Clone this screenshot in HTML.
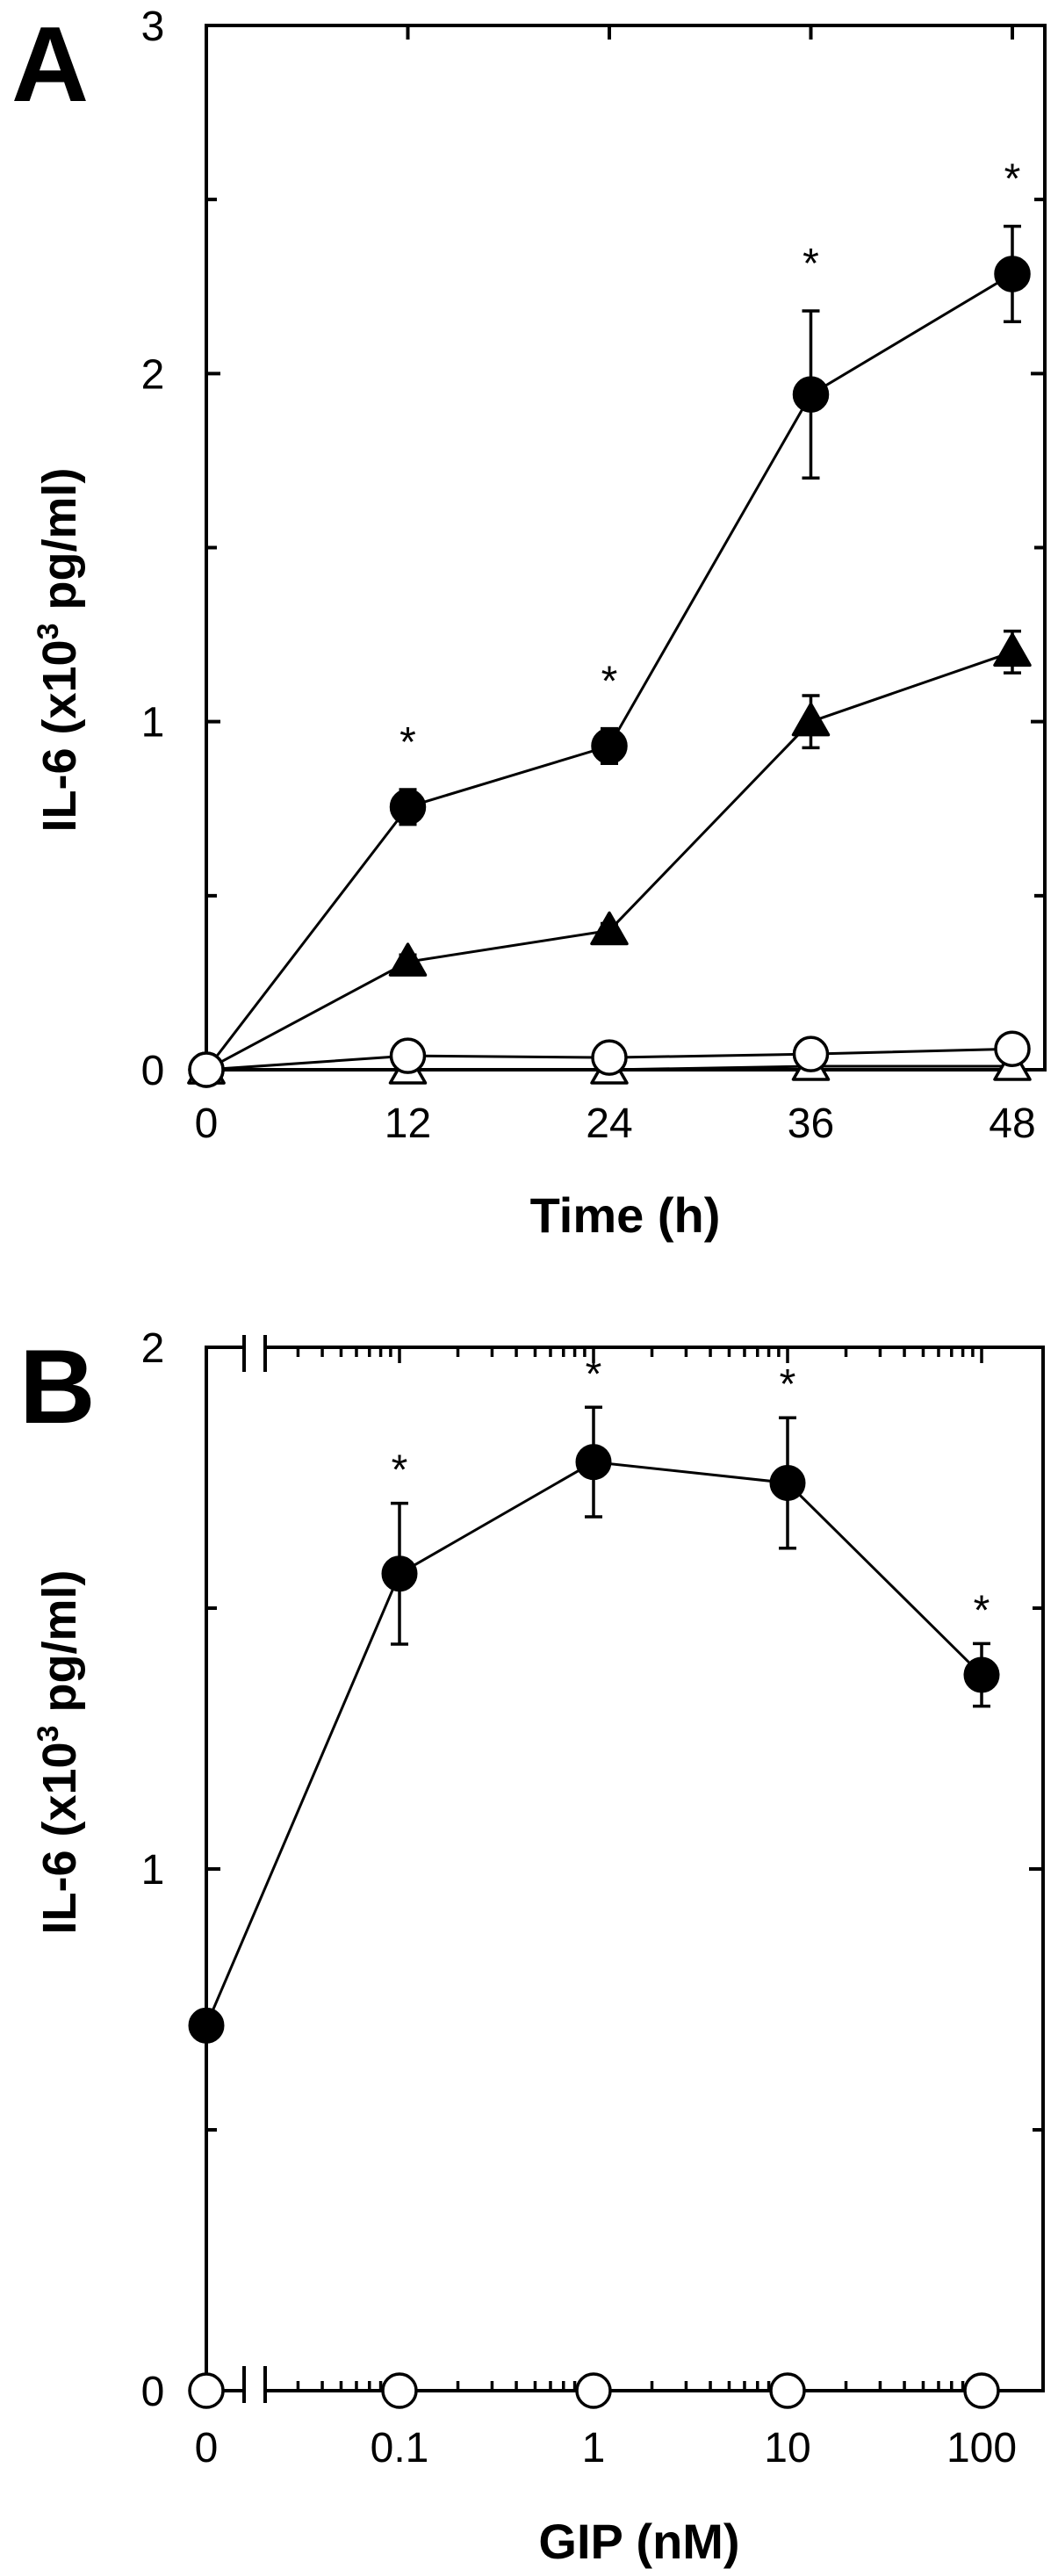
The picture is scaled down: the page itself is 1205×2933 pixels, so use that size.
<!DOCTYPE html>
<html><head><meta charset="utf-8">
<style>
html,body{margin:0;padding:0;background:#fff;}
svg{display:block;font-family:"Liberation Sans",Arial,sans-serif;}
</style></head>
<body>
<svg id="fig" width="1205" height="2933" viewBox="0 0 1205 2933" xmlns="http://www.w3.org/2000/svg">
<g id="panelA"></g>
<g id="panelB"></g>
</svg>
<script>
// ---------- Panel A data ----------
const timeCats = [0, 12, 24, 36, 48];
const aFilledCircle = [0, 0.755, 0.93, 1.94, 2.286];
const aFilledCircleErr = [0, 0.05, 0.05, 0.24, 0.137];
const aFilledTri = [0, 0.31, 0.40, 1.0, 1.2];
const aFilledTriErr = [0, 0.02, 0.02, 0.075, 0.06];
const aOpenCircle = [0, 0.04, 0.035, 0.045, 0.06];
const aOpenTri = [0, 0, 0, 0.01, 0.01];
const aStars = [false, true, true, true, true];
const aYTicks = [0, 1, 2, 3];
const aYMinor = [0.5, 1.5, 2.5];
const aXTicks = [0, 12, 24, 36, 48];

// ---------- Panel B data ----------
const gipCats = [0, 0.1, 1, 10, 100];
const gipLabels = ["0", "0.1", "1", "10", "100"];
const bFilled = [0.70, 1.566, 1.78, 1.74, 1.372];
const bFilledErr = [0, 0.135, 0.105, 0.125, 0.06];
const bOpen = [0, 0, 0, 0, 0];
const bStars = [false, true, true, true, true];
const bYTicks = [0, 1, 2];
const bYMinor = [0.5, 1.5];

const NS = "http://www.w3.org/2000/svg";
function mk(parent, tag, attrs, text) {
  const e = document.createElementNS(NS, tag);
  for (const k in attrs) e.setAttribute(k, attrs[k]);
  if (text !== undefined) e.textContent = text;
  parent.appendChild(e);
  return e;
}
function yTitle(g, cy, name) {
  const yt = mk(g, 'text', {x: 0, y: 0, 'font-size': 54, 'font-weight': 'bold', 'text-anchor': 'middle', transform: `translate(86,${cy}) rotate(-90)`});
  yt.appendChild(document.createTextNode('IL-6  (x10'));
  mk(yt, 'tspan', {'font-size': 34, dy: -20}, '3');
  mk(yt, 'tspan', {dy: 20}, ' pg/ml)');
  
  
}

// ---------- Panel A ----------
(function () {
  const g = document.getElementById('panelA');
  const L = 235, R = 1190, T = 29, B = 1218;
  const xs = t => L + t * (1153 - L) / 48;
  const ys = v => B - v * (B - T) / 3;

  let t = mk(g, 'text', {x: 13, y: 115, 'font-size': 122, 'font-weight': 'bold'}, 'A');
  
  

  let fr = mk(g, 'rect', {x: L, y: T, width: R - L, height: B - T, fill: 'none', stroke: '#000', 'stroke-width': 4});
  
  

  aYTicks.forEach(v => {
    const tk = mk(g, 'path', {d: `M${L},${ys(v)}h16M${R},${ys(v)}h-16`, stroke: '#000', 'stroke-width': 4});
    
    
    const lb = mk(g, 'text', {x: 174, y: ys(v) + 17, 'font-size': 48, 'text-anchor': 'middle'}, String(v));
    
    
  });
  aYMinor.forEach(v => {
    const tk = mk(g, 'path', {d: `M${L},${ys(v)}h12M${R},${ys(v)}h-12`, stroke: '#000', 'stroke-width': 4});
    
    
  });
  aXTicks.forEach(v => {
    const tk = mk(g, 'path', {d: `M${xs(v)},${B}v-16M${xs(v)},${T}v16`, stroke: '#000', 'stroke-width': 4});
    
    
    const lb = mk(g, 'text', {x: xs(v), y: 1295, 'font-size': 48, 'text-anchor': 'middle'}, String(v));
    
    
  });
  let xt = mk(g, 'text', {x: 712, y: 1403, 'font-size': 56, 'font-weight': 'bold', 'text-anchor': 'middle'}, 'Time (h)');
  
  
  yTitle(g, 740, 'y-axis-title-a');

  function series(vals, name) {
    const p = mk(g, 'polyline', {points: vals.map((v, i) => `${xs(timeCats[i])},${ys(v)}`).join(' '), fill: 'none', stroke: '#000', 'stroke-width': 3});
    
    
  }
  function errs(vals, err, name) {
    vals.forEach((v, i) => {
      if (!err[i]) return;
      const x = xs(timeCats[i]), y1 = ys(v + err[i]), y2 = ys(v - err[i]);
      const e = mk(g, 'path', {d: `M${x},${y1}V${y2}M${x - 10},${y1}h20M${x - 10},${y2}h20`, stroke: '#000', 'stroke-width': 3.5, fill: 'none'});
      
      
    });
  }
  function circles(vals, fill, name) {
    vals.forEach((v, i) => {
      const c = mk(g, 'circle', {cx: xs(timeCats[i]), cy: ys(v), r: 19, fill: fill, stroke: '#000', 'stroke-width': 3.5});
      
      
    });
  }
  function tris(vals, fill, name) {
    vals.forEach((v, i) => {
      const x = xs(timeCats[i]), y = ys(v);
      const c = mk(g, 'polygon', {points: `${x},${y - 20} ${x - 20},${y + 15} ${x + 20},${y + 15}`, fill: fill, stroke: '#000', 'stroke-width': 3.5, 'stroke-linejoin': 'round'});
      
      
    });
  }
  series(aFilledCircle, 'filled-circle');
  series(aFilledTri, 'filled-triangle');
  series(aOpenTri, 'open-triangle');
  series(aOpenCircle, 'open-circle');
  errs(aFilledCircle, aFilledCircleErr, 'filled-circle');
  errs(aFilledTri, aFilledTriErr, 'filled-triangle');
  tris(aFilledTri, '#000', 'filled-triangle');
  circles(aFilledCircle, '#000', 'filled-circle');
  tris(aOpenTri, '#fff', 'open-triangle');
  circles(aOpenCircle, '#fff', 'open-circle');
  aStars.forEach((s, i) => {
    if (!s) return;
    const st = mk(g, 'text', {x: xs(timeCats[i]), y: ys(aFilledCircle[i] + aFilledCircleErr[i]) - 38, 'font-size': 48, 'text-anchor': 'middle'}, '*');
    
    
  });
})();

// ---------- Panel B ----------
(function () {
  const g = document.getElementById('panelB');
  const L = 235, R = 1188, T = 1534, B = 2722;
  const brk1 = 278, brk2 = 302;
  const dec = 221, x01 = 455;
  const xs = c => c === 0 ? L : x01 + dec * (Math.log10(c) + 1);
  const ys = v => B - v * (B - T) / 2;

  let t = mk(g, 'text', {x: 22, y: 1620, 'font-size': 120, 'font-weight': 'bold'}, 'B');
  
  

  let fr = mk(g, 'path', {d: `M${brk1},${T}H${L}V${B}H${brk1}M${brk2},${B}H${R}V${T}H${brk2}`, fill: 'none', stroke: '#000', 'stroke-width': 4});
  
  
  let bk = mk(g, 'path', {d: `M${brk1},${T - 14}v42M${brk2},${T - 14}v42M${brk1},${B - 28}v42M${brk2},${B - 28}v42`, stroke: '#000', 'stroke-width': 4});
  
  

  bYTicks.forEach(v => {
    const tk = mk(g, 'path', {d: `M${L},${ys(v)}h16M${R},${ys(v)}h-16`, stroke: '#000', 'stroke-width': 4});
    
    
    const lb = mk(g, 'text', {x: 174, y: ys(v) + 17, 'font-size': 48, 'text-anchor': 'middle'}, String(v));
    
    
  });
  bYMinor.forEach(v => {
    const tk = mk(g, 'path', {d: `M${L},${ys(v)}h12M${R},${ys(v)}h-12`, stroke: '#000', 'stroke-width': 4});
    
    
  });
  for (let d = -2; d <= 1; d++) {
    for (let m = 1; m <= 9; m++) {
      const val = m * Math.pow(10, d);
      const x = xs(val);
      if (x < brk2 + 10 || x > R - 5) continue;
      const len = m === 1 ? 18 : 11;
      const tk = mk(g, 'path', {d: `M${x},${B}v${-len}M${x},${T}v${len}`, stroke: '#000', 'stroke-width': 3.5});
      
      
    }
  }
  {
    const x = xs(100);
    const tk = mk(g, 'path', {d: `M${x},${B}v-18M${x},${T}v18`, stroke: '#000', 'stroke-width': 3.5});
    
    
  }
  gipCats.forEach((c, i) => {
    const lb = mk(g, 'text', {x: xs(c), y: 2803, 'font-size': 48, 'text-anchor': 'middle'}, gipLabels[i]);
    
    
  });
  let xt = mk(g, 'text', {x: 728, y: 2913, 'font-size': 56, 'font-weight': 'bold', 'text-anchor': 'middle'}, 'GIP (nM)');
  
  
  yTitle(g, 1995, 'y-axis-title-b');

  let os = mk(g, 'path', {d: `M${xs(gipCats[0])},${ys(bOpen[0])}H${brk1}`, stroke: '#000', 'stroke-width': 3});
  
  
  let ol = mk(g, 'polyline', {points: bOpen.slice(1).map((v, i) => `${xs(gipCats[i + 1])},${ys(v)}`).join(' '), fill: 'none', stroke: '#000', 'stroke-width': 3});
  
  
  let fl = mk(g, 'polyline', {points: bFilled.map((v, i) => `${xs(gipCats[i])},${ys(v)}`).join(' '), fill: 'none', stroke: '#000', 'stroke-width': 3});
  
  
  bFilled.forEach((v, i) => {
    if (!bFilledErr[i]) return;
    const x = xs(gipCats[i]), y1 = ys(v + bFilledErr[i]), y2 = ys(v - bFilledErr[i]);
    const e = mk(g, 'path', {d: `M${x},${y1}V${y2}M${x - 10},${y1}h20M${x - 10},${y2}h20`, stroke: '#000', 'stroke-width': 3.5, fill: 'none'});
    
    
  });
  bFilled.forEach((v, i) => {
    const c = mk(g, 'circle', {cx: xs(gipCats[i]), cy: ys(v), r: 19, fill: '#000', stroke: '#000', 'stroke-width': 3});
    
    
  });
  bOpen.forEach((v, i) => {
    const c = mk(g, 'circle', {cx: xs(gipCats[i]), cy: ys(v), r: 19, fill: '#fff', stroke: '#000', 'stroke-width': 3.5});
    
    
  });
  bStars.forEach((s, i) => {
    if (!s) return;
    const st = mk(g, 'text', {x: xs(gipCats[i]), y: ys(bFilled[i] + bFilledErr[i]) - 22, 'font-size': 48, 'text-anchor': 'middle'}, '*');
    
    
  });
})();
</script>
</body></html>
